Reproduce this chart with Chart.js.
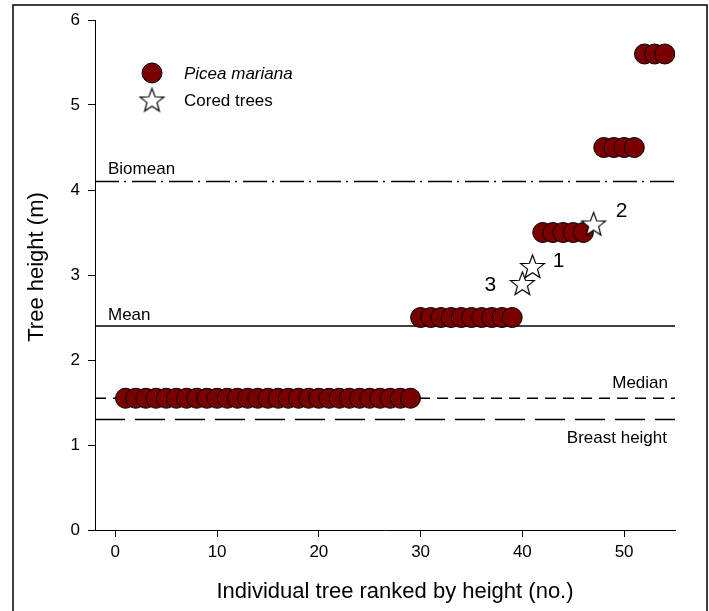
<!DOCTYPE html>
<html>
<head>
<meta charset="utf-8">
<script src="https://cdn.jsdelivr.net/npm/chart.js@4/dist/chart.umd.min.js"></script>
<style>
  html, body { margin: 0; padding: 0; background: #fff; }
  #wrap { position: relative; width: 709px; height: 611px; }
</style>
</head>
<body>
<div id="wrap"><canvas id="c" width="709" height="611"></canvas></div>
<script>
// ---- Data ----
const circleRanks = [1,2,3,4,5,6,7,8,9,10,11,12,13,14,15,16,17,18,19,20,21,22,23,24,25,26,27,28,29,
                     30,31,32,33,34,35,36,37,38,39,
                     42,43,44,45,46,
                     48,49,50,51,
                     52,53,54];
const circleHeights = [1.55,1.55,1.55,1.55,1.55,1.55,1.55,1.55,1.55,1.55,1.55,1.55,1.55,1.55,1.55,1.55,1.55,1.55,1.55,1.55,1.55,1.55,1.55,1.55,1.55,1.55,1.55,1.55,1.55,
                       2.5,2.5,2.5,2.5,2.5,2.5,2.5,2.5,2.5,2.5,
                       3.5,3.5,3.5,3.5,3.5,
                       4.5,4.5,4.5,4.5,
                       5.6,5.6,5.6];
const coredRanks = [40, 41, 47];
const coredHeights = [2.9, 3.1, 3.6];
const coredLabels = ['3', '1', '2'];
const refNames = ['Biomean', 'Mean', 'Median', 'Breast height'];
const refValues = [4.1, 2.4, 1.55, 1.3];
const xRange = [-2, 55];
const yRange = [0, 6];
const xTickValues = [0, 10, 20, 30, 40, 50];
const yTickValues = [0, 1, 2, 3, 4, 5, 6];
const legendLabels = ['Picea mariana', 'Cored trees'];
const xTitle = 'Individual tree ranked by height (no.)';
const yTitle = 'Tree height (m)';

// ---- Styles ----
const FONT = '"Liberation Sans", Arial, sans-serif';
const refDashes = [[24, 5, 2, 6], [], [11, 7], [30, 10]];
const circleColor = '#7a0000';

function makeStar(outer) {
  const size = Math.ceil(outer * 2 + 4);
  const cv = document.createElement('canvas');
  cv.width = size; cv.height = size;
  const g = cv.getContext('2d');
  const cx = size / 2, cy = size / 2 + 1;
  const inner = outer * 0.42;
  g.beginPath();
  for (let i = 0; i < 10; i++) {
    const r = i % 2 === 0 ? outer : inner;
    const a = -Math.PI / 2 + i * Math.PI / 5;
    const px = cx + r * Math.cos(a), py = cy + r * Math.sin(a);
    if (i === 0) g.moveTo(px, py); else g.lineTo(px, py);
  }
  g.closePath();
  g.fillStyle = '#fff';
  g.fill();
  g.lineWidth = 1.2;
  g.strokeStyle = '#000';
  g.stroke();
  return cv;
}
const starImg = makeStar(12.5);

const refDatasets = refValues.map((v, i) => ({
  type: 'line',
  label: refNames[i],
  data: [{x: xRange[0], y: v}, {x: xRange[1], y: v}],
  borderColor: '#000',
  borderWidth: 1.5,
  borderDash: refDashes[i],
  pointRadius: 0,
  fill: false,
  order: 3
}));

const overlay = {
  id: 'overlay',
  afterDraw(chart) {
    const ctx = chart.ctx;
    const xs = chart.scales.x, ys = chart.scales.y;
    ctx.save();
    ctx.fillStyle = '#000';
    // reference line labels
    ctx.font = '17px ' + FONT;
    ctx.textBaseline = 'alphabetic';
    ctx.textAlign = 'left';
    ctx.fillText(refNames[0], 108, ys.getPixelForValue(refValues[0]) - 8);
    ctx.fillText(refNames[1], 108, ys.getPixelForValue(refValues[1]) - 6);
    ctx.textAlign = 'right';
    ctx.fillText(refNames[2], 668, ys.getPixelForValue(refValues[2]) - 10);
    ctx.fillText(refNames[3], 667, ys.getPixelForValue(refValues[3]) + 23);
    // cored labels
    ctx.font = '21px ' + FONT;
    ctx.textBaseline = 'middle';
    const offs = [[-32, 2], [26, -5], [28, -13]];
    coredRanks.forEach((r, i) => {
      ctx.textAlign = 'center';
      ctx.fillText(coredLabels[i], xs.getPixelForValue(r) + offs[i][0], ys.getPixelForValue(coredHeights[i]) + offs[i][1]);
    });
    // legend
    ctx.beginPath();
    ctx.arc(152, 73, 10, 0, Math.PI * 2);
    ctx.fillStyle = circleColor;
    ctx.fill();
    ctx.lineWidth = 1;
    ctx.strokeStyle = '#000';
    ctx.stroke();
    ctx.drawImage(starImg, 152 - starImg.width / 2, 101 - starImg.height / 2 - 1);
    ctx.fillStyle = '#000';
    ctx.textAlign = 'left';
    ctx.textBaseline = 'middle';
    ctx.font = 'italic 17px ' + FONT;
    ctx.fillText(legendLabels[0], 184, 74);
    ctx.font = '17px ' + FONT;
    ctx.fillText(legendLabels[1], 184, 101);
    // axis titles
    ctx.font = '22px ' + FONT;
    ctx.textAlign = 'center';
    ctx.fillText(xTitle, 395, 592);
    ctx.save();
    ctx.translate(37, 267);
    ctx.rotate(-Math.PI / 2);
    ctx.fillText(yTitle, 0, 0);
    ctx.restore();
    // frame
    ctx.strokeStyle = '#000';
    ctx.lineWidth = 1.5;
    ctx.strokeRect(13, 5, 694, 620);
    ctx.restore();
  }
};

new Chart(document.getElementById('c'), {
  type: 'scatter',
  data: {
    datasets: [
      {
        label: legendLabels[1],
        data: coredRanks.map((r, i) => ({x: r, y: coredHeights[i]})),
        pointStyle: starImg,
        pointRadius: 12,
        order: 1
      },
      {
        label: legendLabels[0],
        data: circleRanks.map((r, i) => ({x: r, y: circleHeights[i]})),
        pointStyle: 'circle',
        pointRadius: 10,
        pointBackgroundColor: circleColor,
        pointBorderColor: '#000',
        pointBorderWidth: 1,
        order: 2
      },
      ...refDatasets
    ]
  },
  options: {
    responsive: false,
    animation: false,
    events: [],
    layout: { padding: { left: 0, right: 34, top: 20, bottom: 0 } },
    plugins: { legend: { display: false }, tooltip: { enabled: false } },
    scales: {
      x: {
        type: 'linear',
        min: xRange[0], max: xRange[1],
        afterBuildTicks: s => { s.ticks = xTickValues.map(v => ({value: v})); },
        afterFit: s => { s.height = 81; },
        grid: { drawOnChartArea: false, color: '#000', tickLength: 7, lineWidth: 1 },
        border: { display: true, color: '#000', width: 1 },
        ticks: { color: '#000', font: { family: FONT, size: 17 }, padding: 5, maxRotation: 0 }
      },
      y: {
        type: 'linear',
        min: yRange[0], max: yRange[1],
        afterBuildTicks: s => { s.ticks = yTickValues.map(v => ({value: v})); },
        afterFit: s => { s.width = 95; },
        grid: { drawOnChartArea: false, color: '#000', tickLength: 7, lineWidth: 1 },
        border: { display: true, color: '#000', width: 1 },
        ticks: { color: '#000', font: { family: FONT, size: 17 }, padding: 8 }
      }
    }
  },
  plugins: [overlay]
});
</script>
</body>
</html>
